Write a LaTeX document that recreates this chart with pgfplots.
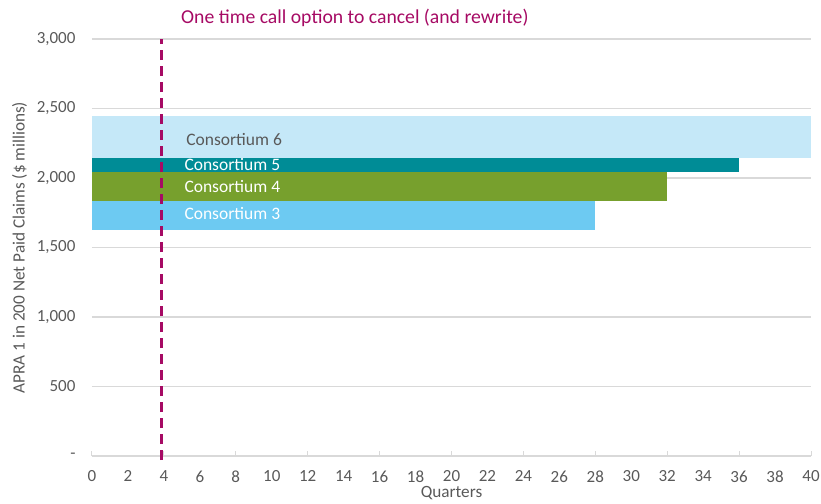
\documentclass[border=0pt]{standalone}
\usepackage{pgfplots}
\pgfplotsset{compat=1.18}
\usepackage{fontspec}
\setmainfont{Carlito}

\definecolor{txtgray}{RGB}{89,89,89}
\definecolor{gridgray}{RGB}{217,217,217}
\definecolor{callmag}{RGB}{166,10,100}
\definecolor{consSix}{RGB}{197,232,248}
\definecolor{consFive}{RGB}{0,140,150}
\definecolor{consFour}{RGB}{119,160,45}
\definecolor{consThree}{RGB}{109,202,242}

\begin{document}
\begin{tikzpicture}
\useasboundingbox (-92pt,-47pt) rectangle (729pt,456pt);
\begin{axis}[
  at={(0,0)}, anchor=south west,
  scale only axis, width=719pt, height=417pt,
  xmin=0, xmax=40, ymin=0, ymax=3000,
  clip=false,
  axis y line*=left, axis x line*=bottom,
  y axis line style={draw=none},
  x axis line style={draw=gridgray, line width=1.3pt, -},
  xtick={0,2,...,40},
  ytick={0,500,...,3000},
  yticklabels={{-},{500},{1,000},{1,500},{2,000},{2,500},{3,000}},
  major tick length=0pt,
  extra x ticks={0,4,...,40}, extra x tick labels={},
  extra x tick style={major tick length=5pt, tick align=inside,
    tick style={draw=gridgray, line width=1pt}},
  ymajorgrids, grid style={gridgray, line width=1.3pt},
  /pgf/number format/assume math mode=true,
  tick label style={font=\fontsize{17}{20}\selectfont, text=txtgray},
  xticklabel style={inner sep=1pt, yshift=-13.5pt},
  yticklabel style={xshift=-13pt},
  xlabel={Quarters}, ylabel={APRA 1 in 200 Net Paid Claims (\$ millions)},
  label style={font=\fontsize{17.2}{20}\selectfont, text=txtgray},
  xlabel style={inner sep=1pt, yshift=-1.5pt},
  ylabel style={yshift=3pt},
]
% Consortium 6
\addplot[fill=consSix, draw=none] coordinates {(0,2145)(40,2145)(40,2445)(0,2445)} -- cycle;
% Consortium 5
\addplot[fill=consFive, draw=none] coordinates {(0,2045)(36,2045)(36,2145)(0,2145)} -- cycle;
% Consortium 4
\addplot[fill=consFour, draw=none] coordinates {(0,1835)(32,1835)(32,2045)(0,2045)} -- cycle;
% Consortium 3
\addplot[fill=consThree, draw=none] coordinates {(0,1625)(28,1625)(28,1835)(0,1835)} -- cycle;
% call option
\addplot[callmag, line width=3pt, dash pattern=on 10pt off 6pt] coordinates {(3.85,-30)(3.85,3000)};

\node[anchor=west, font=\fontsize{17.5}{20}\selectfont, text=txtgray] at (axis cs:5.05,2279) {Consortium 6};
\node[anchor=west, font=\fontsize{17.5}{20}\selectfont, text=white] at (axis cs:4.95,2099) {Consortium 5};
\node[anchor=west, font=\fontsize{17.5}{20}\selectfont, text=white] at (axis cs:4.95,1941) {Consortium 4};
\node[anchor=west, font=\fontsize{17.5}{20}\selectfont, text=white] at (axis cs:4.95,1747) {Consortium 3};
\node[anchor=base west, font=\fontsize{19.7}{23}\selectfont, text=callmag, inner sep=0pt] at (axis cs:4.95,3115) {One time call option to cancel (and rewrite)};
\end{axis}
\end{tikzpicture}
\end{document}
